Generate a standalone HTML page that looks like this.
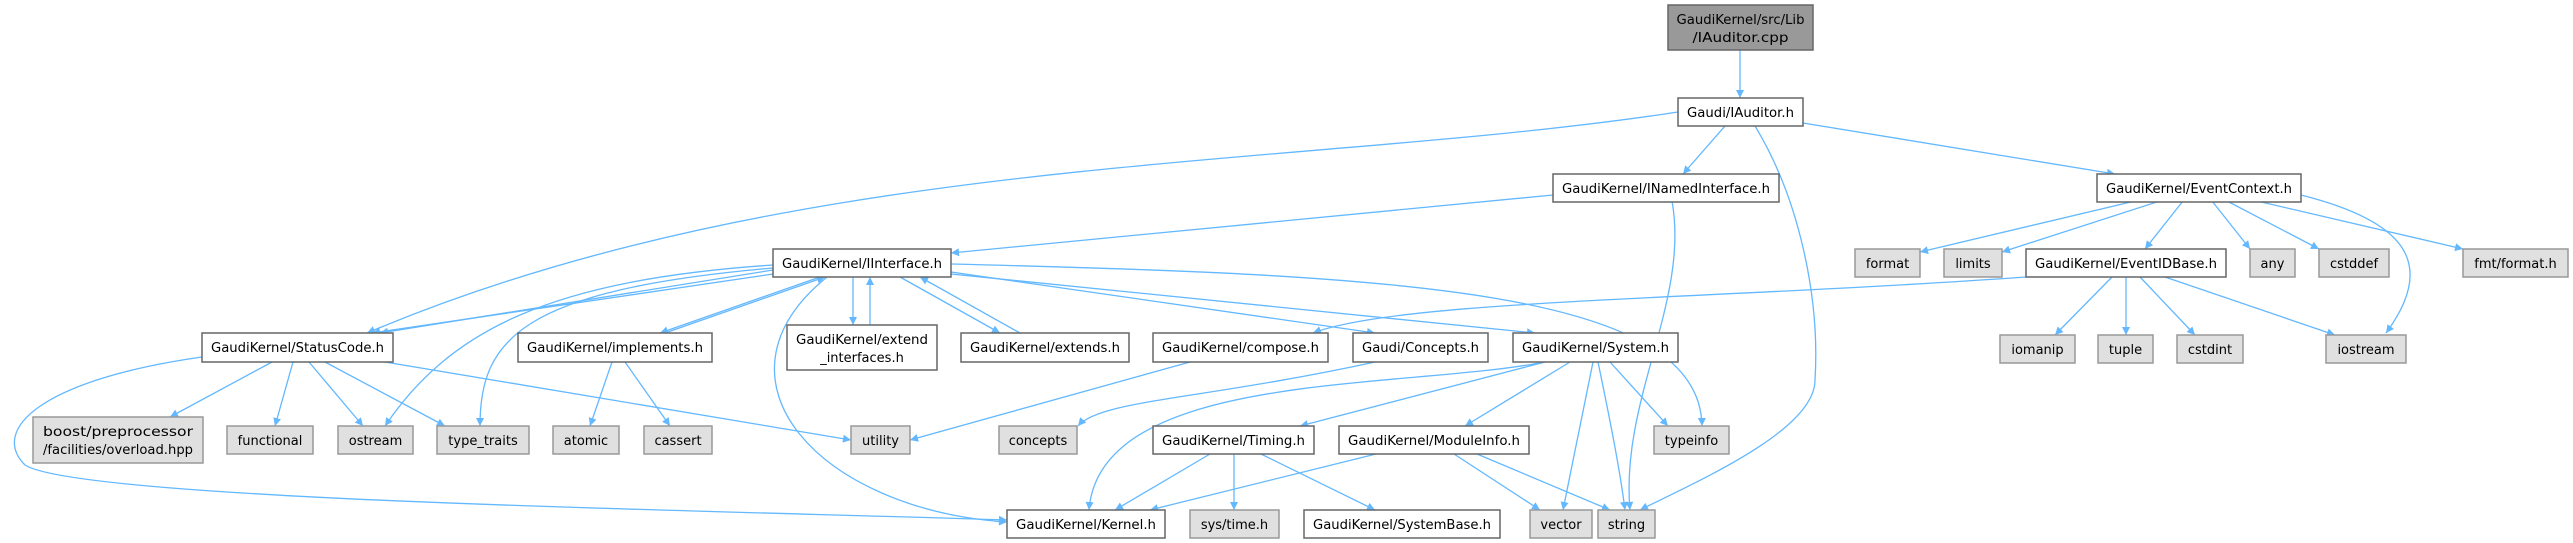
<!DOCTYPE html>
<html><head><meta charset="utf-8"><style>
html,body{margin:0;padding:0;background:#fff;}
svg{display:block;}
text{font-family:"DejaVu Sans","Liberation Sans",sans-serif;font-size:13px;fill:#000;}
.w{fill:#fff;stroke:#666;stroke-width:1.5;}
.g{fill:#e0e0e0;stroke:#999;stroke-width:1.5;}
.r{fill:#999;stroke:#666;stroke-width:1.5;}
.e{fill:none;stroke:#63b8ff;stroke-width:1.3;}
</style></head><body>
<svg width="2573" height="543" viewBox="0 0 2573 543" xmlns="http://www.w3.org/2000/svg">
<defs><marker id="a" viewBox="0 0 10 10" refX="10" refY="5" markerWidth="10" markerHeight="8" markerUnits="userSpaceOnUse" orient="auto"><path d="M0,0 L10,5 L0,10 z" fill="#63b8ff"/></marker></defs>
<g class="e" marker-end="url(#a)">
<path d="M1740,50 L1740,98"/>
<path d="M1678,112 C1300,170 800,150 367,333"/>
<path d="M1725,126 L1683,174"/>
<path d="M1755,126 C1800,200 1820,300 1815,380 C1815,430 1700,480 1640,510"/>
<path d="M1803,123 L2115,174"/>
<path d="M1553,195 L951,253"/>
<path d="M1672,201 C1690,300 1620,400 1630,510"/>
<path d="M2135,201 L1920,252"/>
<path d="M2160,201 L2002,252"/>
<path d="M2183,201 L2145,249"/>
<path d="M2212,201 L2250,249"/>
<path d="M2227,201 L2319,249"/>
<path d="M2257,201 L2463,249"/>
<path d="M2301,195 C2400,220 2440,260 2386,333"/>
<path d="M2026,277 C1700,300 1400,300 1313,333"/>
<path d="M2112,277 L2055,335"/>
<path d="M2126,277 L2126,335"/>
<path d="M2140,277 L2195,335"/>
<path d="M2165,277 L2335,335"/>
<path d="M773,270 L380,333"/>
<path d="M773,274 L372,333"/>
<path d="M820,277 L660,333"/>
<path d="M665,333 L825,277"/>
<path d="M773,265 C550,280 450,330 385,426"/>
<path d="M773,268 C520,290 480,340 480,426"/>
<path d="M827,277 C700,380 820,510 1007,522"/>
<path d="M853,277 L853,325"/>
<path d="M870,325 L870,277"/>
<path d="M900,277 L1000,333"/>
<path d="M1020,333 L920,277"/>
<path d="M951,264 C1400,275 1700,290 1702,426"/>
<path d="M951,272 L1375,333"/>
<path d="M951,274 L1535,333"/>
<path d="M385,362 L851,440"/>
<path d="M1190,362 L910,440"/>
<path d="M1375,362 C1200,400 1100,400 1078,426"/>
<path d="M1545,362 C1400,390 1100,370 1089,510"/>
<path d="M1545,362 L1300,426"/>
<path d="M1570,362 L1465,426"/>
<path d="M1593,362 L1563,510"/>
<path d="M1598,362 C1610,420 1620,470 1625,510"/>
<path d="M1610,362 L1668,426"/>
<path d="M1210,454 L1115,510"/>
<path d="M1234,454 L1234,510"/>
<path d="M1261,454 L1375,510"/>
<path d="M1376,454 L1150,510"/>
<path d="M1454,454 L1540,510"/>
<path d="M1477,454 L1610,510"/>
<path d="M272,362 L170,417"/>
<path d="M293,362 L275,426"/>
<path d="M309,362 L363,426"/>
<path d="M325,362 L445,426"/>
<path d="M202,357 C40,380 -10,430 25,465 C80,500 700,510 1007,520"/>
<path d="M612,362 L590,426"/>
<path d="M625,362 L670,426"/>
</g>
<g>
<rect class="r" x="1668" y="5" width="145" height="45"/>
<text x="1740.5" y="24" text-anchor="middle" textLength="128" lengthAdjust="spacingAndGlyphs">GaudiKernel/src/Lib</text>
<text x="1740.5" y="42" text-anchor="middle" textLength="96" lengthAdjust="spacingAndGlyphs">/IAuditor.cpp</text>

<rect class="w" x="1678" y="98" width="125" height="28"/><text x="1740.5" y="117" text-anchor="middle" textLength="107" lengthAdjust="spacingAndGlyphs">Gaudi/IAuditor.h</text>
<rect class="w" x="1553" y="174" width="226" height="28"/><text x="1666" y="193" text-anchor="middle" textLength="208" lengthAdjust="spacingAndGlyphs">GaudiKernel/INamedInterface.h</text>
<rect class="w" x="2097" y="174" width="204" height="28"/><text x="2199" y="193" text-anchor="middle" textLength="186" lengthAdjust="spacingAndGlyphs">GaudiKernel/EventContext.h</text>

<rect class="w" x="773" y="249" width="178" height="28"/><text x="862" y="268" text-anchor="middle" textLength="160" lengthAdjust="spacingAndGlyphs">GaudiKernel/IInterface.h</text>
<rect class="g" x="1855" y="249" width="65" height="28"/><text x="1887.5" y="268" text-anchor="middle">format</text>
<rect class="g" x="1944" y="249" width="58" height="28"/><text x="1973" y="268" text-anchor="middle">limits</text>
<rect class="w" x="2026" y="249" width="200" height="28"/><text x="2126" y="268" text-anchor="middle" textLength="182" lengthAdjust="spacingAndGlyphs">GaudiKernel/EventIDBase.h</text>
<rect class="g" x="2250" y="249" width="45" height="28"/><text x="2272.5" y="268" text-anchor="middle">any</text>
<rect class="g" x="2319" y="249" width="70" height="28"/><text x="2354" y="268" text-anchor="middle">cstddef</text>
<rect class="g" x="2463" y="249" width="105" height="28"/><text x="2515.5" y="268" text-anchor="middle">fmt/format.h</text>

<rect class="w" x="202" y="333" width="191" height="29"/><text x="297.5" y="352" text-anchor="middle" textLength="173" lengthAdjust="spacingAndGlyphs">GaudiKernel/StatusCode.h</text>
<rect class="w" x="518" y="333" width="194" height="29"/><text x="615" y="352" text-anchor="middle" textLength="176" lengthAdjust="spacingAndGlyphs">GaudiKernel/implements.h</text>
<rect class="w" x="787" y="325" width="150" height="45"/><text x="862" y="344" text-anchor="middle" textLength="132" lengthAdjust="spacingAndGlyphs">GaudiKernel/extend</text><text x="862" y="362" text-anchor="middle">_interfaces.h</text>
<rect class="w" x="961" y="333" width="168" height="29"/><text x="1045" y="352" text-anchor="middle" textLength="150" lengthAdjust="spacingAndGlyphs">GaudiKernel/extends.h</text>
<rect class="w" x="1153" y="333" width="175" height="29"/><text x="1240.5" y="352" text-anchor="middle" textLength="157" lengthAdjust="spacingAndGlyphs">GaudiKernel/compose.h</text>
<rect class="w" x="1353" y="333" width="135" height="29"/><text x="1420.5" y="352" text-anchor="middle" textLength="117" lengthAdjust="spacingAndGlyphs">Gaudi/Concepts.h</text>
<rect class="w" x="1513" y="333" width="165" height="29"/><text x="1595.5" y="352" text-anchor="middle" textLength="147" lengthAdjust="spacingAndGlyphs">GaudiKernel/System.h</text>
<rect class="g" x="2000" y="335" width="75" height="28"/><text x="2037.5" y="354" text-anchor="middle">iomanip</text>
<rect class="g" x="2098" y="335" width="55" height="28"/><text x="2125.5" y="354" text-anchor="middle">tuple</text>
<rect class="g" x="2177" y="335" width="66" height="28"/><text x="2210" y="354" text-anchor="middle">cstdint</text>
<rect class="g" x="2326" y="335" width="80" height="28"/><text x="2366" y="354" text-anchor="middle">iostream</text>

<rect class="g" x="33" y="417" width="170" height="46"/><text x="118" y="436" text-anchor="middle" textLength="150" lengthAdjust="spacingAndGlyphs">boost/preprocessor</text><text x="118" y="454" text-anchor="middle" textLength="150" lengthAdjust="spacingAndGlyphs">/facilities/overload.hpp</text>
<rect class="g" x="227" y="426" width="86" height="28"/><text x="270" y="445" text-anchor="middle">functional</text>
<rect class="g" x="338" y="426" width="75" height="28"/><text x="375.5" y="445" text-anchor="middle">ostream</text>
<rect class="g" x="437" y="426" width="92" height="28"/><text x="483" y="445" text-anchor="middle">type_traits</text>
<rect class="g" x="553" y="426" width="66" height="28"/><text x="586" y="445" text-anchor="middle">atomic</text>
<rect class="g" x="644" y="426" width="68" height="28"/><text x="678" y="445" text-anchor="middle">cassert</text>
<rect class="g" x="851" y="426" width="59" height="28"/><text x="880.5" y="445" text-anchor="middle">utility</text>
<rect class="g" x="999" y="426" width="78" height="28"/><text x="1038" y="445" text-anchor="middle">concepts</text>
<rect class="w" x="1153" y="426" width="161" height="28"/><text x="1233.5" y="445" text-anchor="middle" textLength="143" lengthAdjust="spacingAndGlyphs">GaudiKernel/Timing.h</text>
<rect class="w" x="1339" y="426" width="190" height="28"/><text x="1434" y="445" text-anchor="middle" textLength="172" lengthAdjust="spacingAndGlyphs">GaudiKernel/ModuleInfo.h</text>
<rect class="g" x="1654" y="426" width="75" height="28"/><text x="1691.5" y="445" text-anchor="middle">typeinfo</text>

<rect class="w" x="1007" y="510" width="158" height="28"/><text x="1086" y="529" text-anchor="middle" textLength="140" lengthAdjust="spacingAndGlyphs">GaudiKernel/Kernel.h</text>
<rect class="g" x="1190" y="510" width="89" height="28"/><text x="1234.5" y="529" text-anchor="middle">sys/time.h</text>
<rect class="w" x="1304" y="510" width="196" height="28"/><text x="1402" y="529" text-anchor="middle" textLength="178" lengthAdjust="spacingAndGlyphs">GaudiKernel/SystemBase.h</text>
<rect class="g" x="1530" y="510" width="62" height="28"/><text x="1561" y="529" text-anchor="middle">vector</text>
<rect class="g" x="1598" y="510" width="57" height="28"/><text x="1626.5" y="529" text-anchor="middle">string</text>
</g>
</svg>
</body></html>
